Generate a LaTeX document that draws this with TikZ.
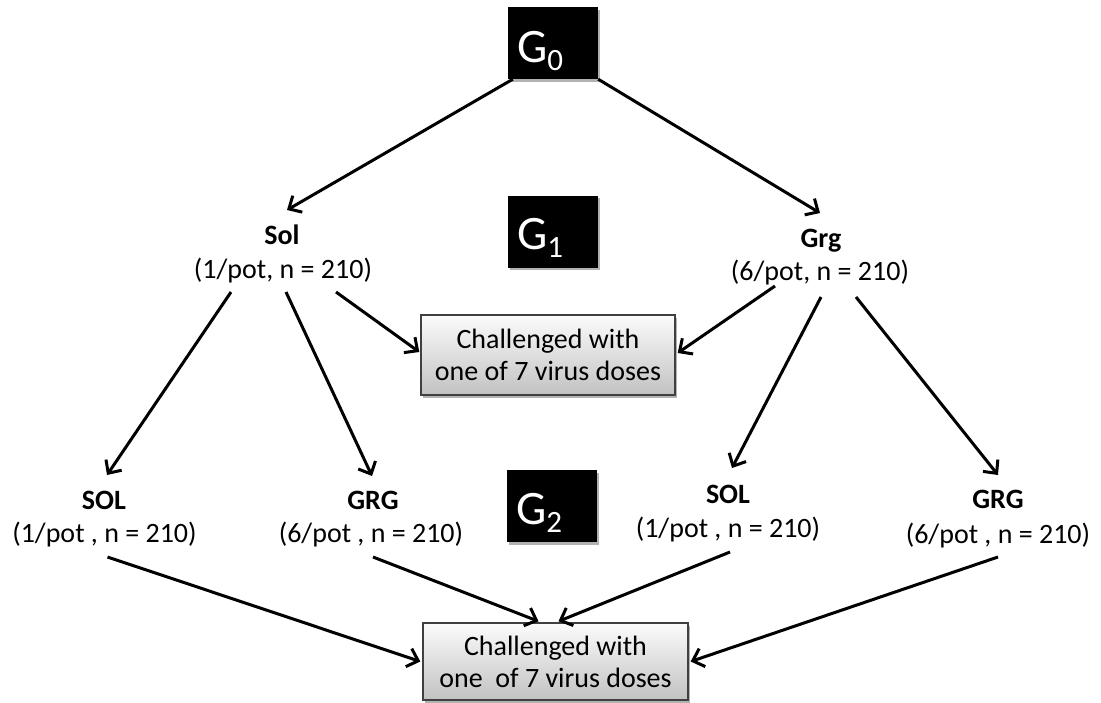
\documentclass[tikz,border=0pt]{standalone}
\usepackage{fontspec}
\setmainfont{Carlito}
\usetikzlibrary{arrows.meta,calc,shadows}
\tikzset{
  blackbox/.style={fill=black, minimum width=90pt, minimum height=72pt, inner sep=0pt,
    drop shadow={shadow xshift=1.5pt, shadow yshift=-2.5pt, opacity=0.3, fill=black}},
  gtext/.style={text=white, inner sep=0pt, anchor=base west, font=\fontsize{48}{50}\selectfont},
  hdr/.style={inner sep=0pt, anchor=base, font=\fontsize{28}{32}\selectfont\bfseries},
  info/.style={inner sep=0pt, anchor=base, font=\fontsize{28}{32}\selectfont},
  chbox/.style={draw=black!75, line width=1.4pt, top color=gray!3, bottom color=gray!48,
    align=center, inner sep=0pt, font=\fontsize{28}{32}\selectfont,
    drop shadow={shadow xshift=2pt, shadow yshift=-3pt, opacity=0.3, fill=black}},
  arr/.style={line width=3pt, -{Straight Barb[length=10pt,width=19pt]}},
}
\newcommand{\gsub}[1]{G\raisebox{-8pt}{\fontsize{31}{31}\selectfont #1}}
\begin{document}
\begin{tikzpicture}[x=1pt,y=-1pt]
\useasboundingbox (0,0) rectangle (1101,702);
\fill[white] (0,0) rectangle (1101,702);

% generation boxes
\node[blackbox] (g0) at (553,43) {};
\node[gtext] (g0t) at ($(g0.south west)+(9,-17)$) {\gsub{0}};
\node[blackbox] (g1) at (553,231.5) {};
\node[gtext] (g1t) at ($(g1.south west)+(9,-18)$) {\gsub{1}};
\node[blackbox] (g2) at (552,506) {};
\node[gtext] (g2t) at ($(g2.south west)+(9,-18)$) {\gsub{2}};

% G1 plants
\node[hdr] (sol) at (282,244) {Sol};
\node[info] (solp) at (283,278) {(1/pot, n = 210)};
\node[hdr] (grg) at (821,247) {Grg};
\node[info] (grgp) at (820,280) {(6/pot, n = 210)};

% G2 plants
\node[hdr] (solL) at (104,509) {SOL};
\node[info] (solLp) at (104.5,542) {(1/pot , n = 210)};
\node[hdr] (grgL) at (373,509) {GRG};
\node[info] (grgLp) at (371,542) {(6/pot , n = 210)};
\node[hdr] (solR) at (728,503) {SOL};
\node[info] (solRp) at (728,537) {(1/pot , n = 210)};
\node[hdr] (grgR) at (998,508) {GRG};
\node[info] (grgRp) at (998,543) {(6/pot , n = 210)};

% challenge boxes
\node[chbox, minimum width=254pt, minimum height=80pt] (ch1) at (548,355)
  {Challenged with\\one of 7 virus doses};
\node[chbox, minimum width=265pt, minimum height=77pt] (ch2) at (555.5,661.5)
  {Challenged with\\one\ \ of 7 virus doses};

% arrows
\draw[arr] ($(g0.south west)+(5,0)$) -- ($(sol.base)+(5,-34)$);
\draw[arr] (g0.south east) -- ($(grg.base)+(-1,-34)$);
\draw[arr] ($(solp.base)+(-52,14)$) -- ($(solL.base)+(3,-34)$);
\draw[arr] ($(solp.base)+(3,14)$) -- ($(grgL.base)+(-1,-33)$);
\draw[arr] ($(solp.base)+(53,14)$) -- ($(ch1.west)+(-1,-3)$);
\draw[arr] ($(grgp.base)+(-45,6)$) -- ($(ch1.east)+(2,-2)$);
\draw[arr] ($(grgp.base)+(1,17)$) -- ($(solR.base)+(4,-35)$);
\draw[arr] ($(grgp.base)+(36,17)$) -- ($(grgR.base)+(0,-33)$);
\draw[arr] ($(solLp.base)+(3,15)$) -- ($(ch2.west)+(-2,0)$);
\draw[arr] ($(grgLp.base)+(2,15)$) -- ($(ch2.north)+(-17,-1)$);
\draw[arr] ($(solRp.base)+(2,15)$) -- ($(ch2.north)+(3,-1)$);
\draw[arr] ($(grgRp.base)+(0,14)$) -- ($(ch2.east)+(2,0)$);
\end{tikzpicture}
\end{document}
